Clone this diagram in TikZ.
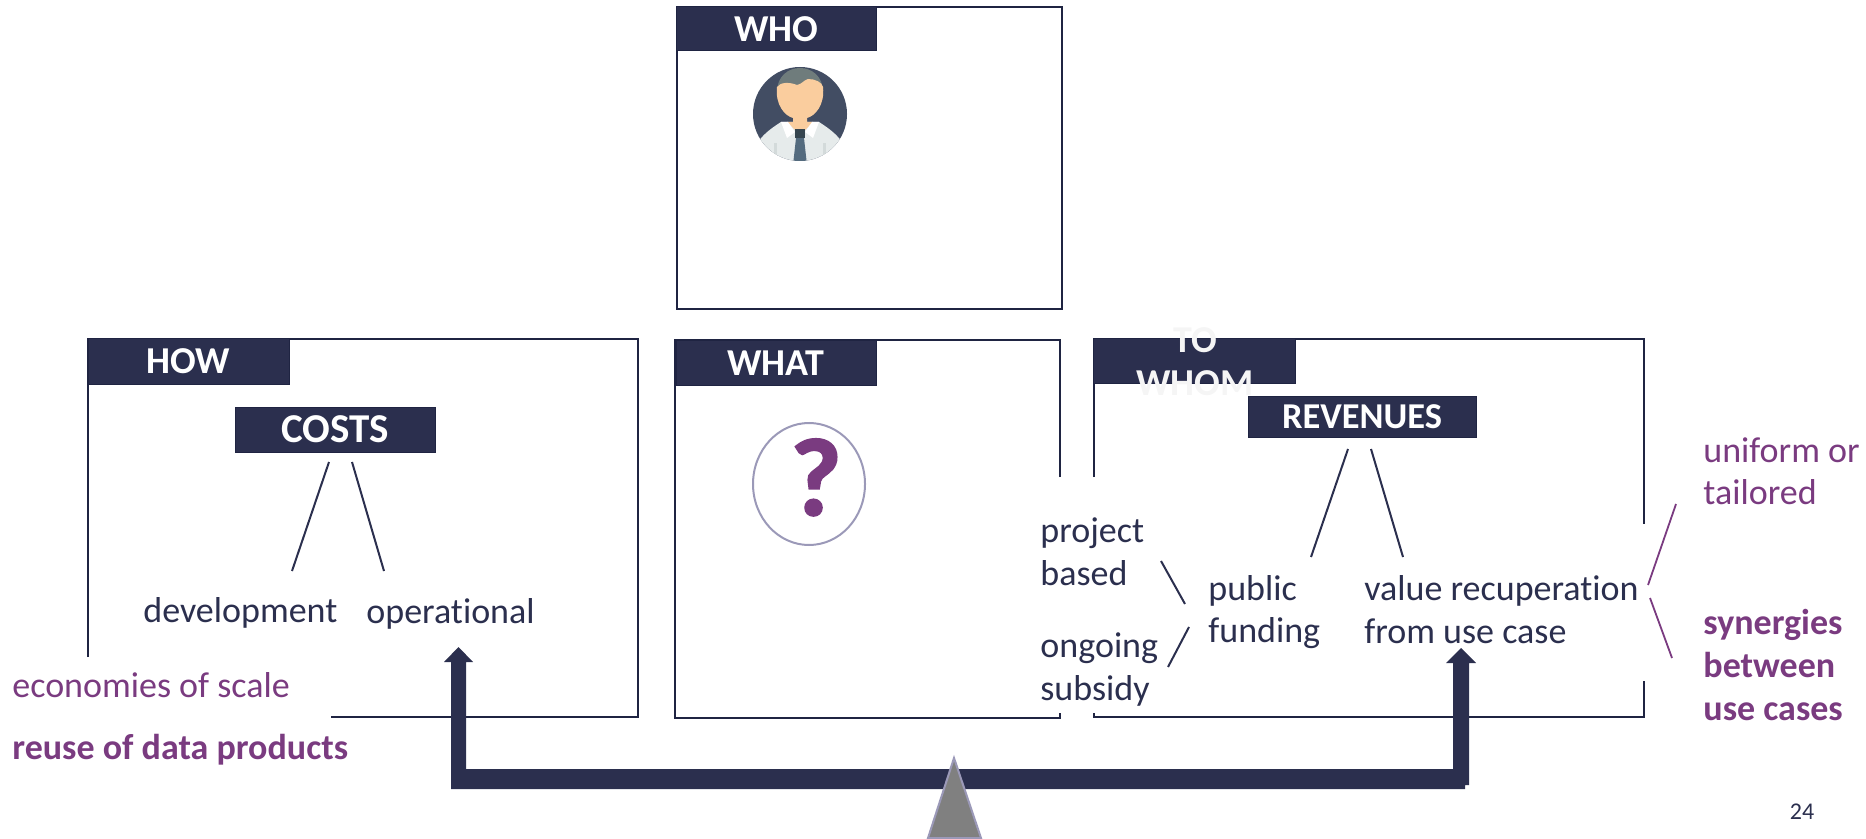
\documentclass[tikz,border=0pt]{standalone}
\usepackage{fontspec}
\setmainfont{Carlito}[Ligatures=NoCommon]
\newfontfamily\qmfont{Carlito}[BoldFeatures={FakeBold=2}]
\definecolor{navy}{HTML}{2B2F4E}
\definecolor{framec}{HTML}{1F2442}
\definecolor{plum}{HTML}{7A3B80}
\definecolor{ringc}{HTML}{9B99B8}
\definecolor{bgdisc}{HTML}{424D63}
\definecolor{hairc}{HTML}{6F7C7C}
\definecolor{shirtc}{HTML}{E6EBEB}
\definecolor{skinc}{HTML}{FACD9E}
\definecolor{tiec}{HTML}{546B7E}
\definecolor{knotc}{HTML}{36454F}
\definecolor{foldc}{HTML}{D3DADA}
\definecolor{fulcrumc}{HTML}{808080}
\tikzset{
  frameline/.style={draw=framec,line width=1pt},
  hdr/.style={fill=navy,draw=framec,line width=.5pt,text=white,font=\fontsize{19}{20}\selectfont\bfseries,inner sep=0pt},
  body/.style={anchor=base west,inner sep=0pt,text=navy,font=\fontsize{18}{21}\selectfont},
  plumtext/.style={anchor=base west,inner sep=0pt,text=plum,font=\fontsize{18}{21}\selectfont},
  plumbold/.style={plumtext,font=\fontsize{18}{21}\selectfont\bfseries},
  tick/.style={draw=navy,line width=1pt},
  plumtick/.style={draw=plum,line width=.9pt},
  faint/.style={anchor=base,inner sep=0pt,text=white!96!black,font=\fontsize{19}{21}\selectfont\bfseries},
}
\begin{document}
\begin{tikzpicture}[x=0.5pt,y=-0.5pt]
\useasboundingbox (0,0) rectangle (1866,839);
% frames
\draw[frameline] (677,7) rectangle (1062,309);
\draw[frameline] (88,657) -- (88,339) -- (638,339) -- (638,717) -- (331,717);
\draw[frameline] (1060,477) -- (1060,340) -- (675,340) -- (675,718) -- (1060,718) -- (1060,713);
\draw[frameline] (1094,477) -- (1094,339) -- (1644,339) -- (1644,524);
\draw[frameline] (1644,681) -- (1644,717) -- (1094,717) -- (1094,713);
% headers
\node[hdr,minimum width=100pt,minimum height=22pt] (who) at (776.5,29) {WHO};
\node[hdr,minimum width=100.5pt,minimum height=22.5pt] (how) at (188.5,361.5) {HOW};
\node[hdr,minimum width=100pt,minimum height=22pt] (what) at (776,363) {WHAT};
\node[hdr,minimum width=101pt,minimum height=22pt] (towhomhdr) at (1194.5,361) {};
\node[faint] (to) at (1195,352) {TO};
\node[faint] (whom) at (1195,395) {WHOM};
\node[hdr,minimum width=100pt,minimum height=22.5pt,font=\fontsize{20.5}{22}\selectfont\bfseries] (costs) at (335,429.5) {COSTS};
\node[hdr,minimum width=114pt,minimum height=20.5pt,font=\fontsize{18.2}{20}\selectfont\bfseries] (revenues) at (1362,416.5) {REVENUES};
% person
\begin{scope}
\clip (800,114) circle[radius=47];
\fill[bgdisc] (750,64) rectangle (850,164);
\fill[hairc] (777,92) .. controls (777,60) and (823,60) .. (823,92) -- cycle;
\fill[shirtc] (758,142) .. controls (765,132) and (775,126) .. (781,122) -- (819,122) .. controls (825,126) and (835,132) .. (842,142) -- (842,165) -- (758,165) -- cycle;
\fill[skinc] (777,87) .. controls (780,82) and (790,82) .. (797,85) .. controls (802,84) and (804,80) .. (808,79) .. controls (815,79) and (822,82) .. (823,87) .. controls (825,105) and (815,116) .. (807,118) -- (807,122) -- (813,122) -- (804,131) -- (796,131) -- (787,122) -- (793,122) -- (793,118) .. controls (785,116) and (775,105) .. (777,87) -- cycle;
\fill[white] (781,122) -- (788,122) -- (795,132) -- (787,138) -- cycle;
\fill[white] (819,122) -- (812,122) -- (805,132) -- (813,138) -- cycle;
\fill[tiec] (796,138) -- (804,138) -- (807,165) -- (793,165) -- cycle;
\fill[knotc] (795,129) rectangle (805,138);
\fill[foldc] (774,143) rectangle (777,155);
\fill[foldc] (823,143) rectangle (826,155);
\end{scope}
% question
\draw[draw=ringc,line width=1pt] (809,484) ellipse[x radius=56,y radius=61];
\node[anchor=base,inner sep=0pt,text=plum,font=\fontsize{55}{60}\qmfont\bfseries] (qm) at (816,515) {?};
% texts
\node[body] (dev) at (143,622) {development};
\node[body] (oper) at (366,623) {operational};
\node[plumtext] (eco) at (12,697) {economies of scale};
\node[plumbold] (reuse) at (12,759) {reuse of data products};
\node[body] (proj1) at (1040,542) {project};
\node[body] (proj2) at (1040,585) {based};
\node[body] (ong1) at (1040,657) {ongoing};
\node[body] (ong2) at (1040,700) {subsidy};
\node[body] (pub1) at (1208,600) {public};
\node[body] (pub2) at (1208,642) {funding};
\node[body] (val1) at (1364,600) {value recuperation};
\node[body] (val2) at (1364,643) {from use case};
\node[plumtext] (uni1) at (1703,462) {uniform or};
\node[plumtext] (uni2) at (1703,504) {tailored};
\node[plumbold] (syn1) at (1703,634) {synergies};
\node[plumbold] (syn2) at (1703,677) {between};
\node[plumbold] (syn3) at (1703,720) {use cases};
\node[anchor=center,inner sep=0pt,text=navy,font=\fontsize{12}{14}\selectfont] (page) at (1802,812) {24};
% ticks
\coordinate (c1a) at (329,462); \coordinate (c1b) at (292,571);
\coordinate (c2a) at (352,462); \coordinate (c2b) at (384,571);
\coordinate (r1a) at (1348,449); \coordinate (r1b) at (1311,557);
\coordinate (r2a) at (1371,449); \coordinate (r2b) at (1403,557);
\coordinate (p1a) at (1161,561); \coordinate (p1b) at (1185,604);
\coordinate (p2a) at (1189,627); \coordinate (p2b) at (1168,667);
\coordinate (u1a) at (1676,504); \coordinate (u1b) at (1648,585);
\coordinate (u2a) at (1650,598); \coordinate (u2b) at (1672,658);
\draw[tick] (c1a) -- (c1b);
\draw[tick] (c2a) -- (c2b);
\draw[tick] (r1a) -- (r1b);
\draw[tick] (r2a) -- (r2b);
\draw[tick] (p1a) -- (p1b);
\draw[tick] (p2a) -- (p2b);
\draw[plumtick] (u1a) -- (u1b);
\draw[plumtick] (u2a) -- (u2b);
% beam
\fill[navy] (451,789) -- (451,662) -- (444,662) -- (458.5,647) -- (473,662) -- (466,662) -- (466,769) -- (1453,769) -- (1453,663) -- (1446,663) -- (1461,648) -- (1476,663) -- (1469,663) -- (1469,785) -- (1465,785) -- (1465,789) -- cycle;
% fulcrum
\draw[draw=ringc,fill=fulcrumc,line width=1pt] (954,758) -- (981,838) -- (928,838) -- cycle;
\end{tikzpicture}
\end{document}
